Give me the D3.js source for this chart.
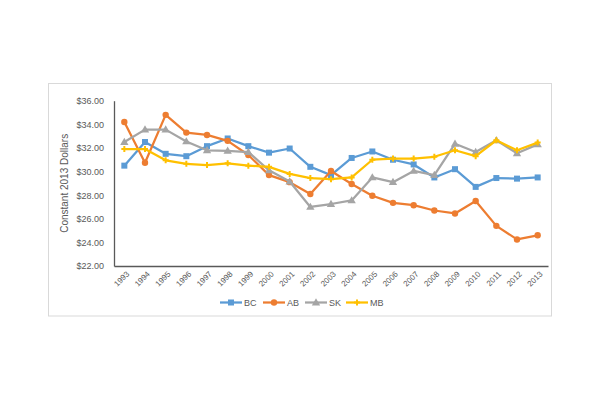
<!DOCTYPE html>
<html><head><meta charset="utf-8">
<script src="https://cdn.jsdelivr.net/npm/d3@7"></script>
<style>body{margin:0;background:#fff}svg{display:block}text{font-family:"Liberation Sans",Arial,sans-serif}</style>
</head><body><svg width="600" height="400"></svg>
<script>
const years = ["1993","1994","1995","1996","1997","1998","1999","2000","2001","2002","2003","2004","2005","2006","2007","2008","2009","2010","2011","2012","2013"];
const BC = [30.5,32.5,31.5,31.3,32.15,32.8,32.15,31.6,31.95,30.4,29.7,31.15,31.7,31.0,30.6,29.5,30.2,28.7,29.45,29.4,29.5];
const AB = [34.2,30.75,34.8,33.3,33.1,32.6,31.4,29.7,29.1,28.1,30.05,28.95,27.95,27.35,27.15,26.7,26.45,27.5,25.4,24.25,24.6];
const SK = [32.5,33.55,33.55,32.55,31.8,31.75,31.65,30.1,29.15,27.0,27.25,27.55,29.5,29.1,30.05,29.7,32.35,31.65,32.65,31.55,32.3];
const MB = [31.9,31.9,30.95,30.65,30.55,30.7,30.5,30.4,29.8,29.45,29.35,29.5,31.0,31.1,31.1,31.25,31.8,31.3,32.65,31.8,32.45];
const yTicks = [22,24,26,28,30,32,34,36];
const seriesNames = ["BC","AB","SK","MB"];
const colors = ["#5B9BD5","#ED7D31","#A5A5A5","#FFC000"];
const series = [BC,AB,SK,MB];

const svg = d3.select("svg");
svg.append("rect").attr("x",48.5).attr("y",83.5).attr("width",503).attr("height",232.5)
  .attr("fill","#fff").attr("stroke","#D9D9D9").attr("stroke-width",1);

const pL=114, pR=548, pT=100.7, pB=266;
const x = d3.scaleBand().domain(years).range([pL,pR]);
const y = d3.scaleLinear().domain([22,36]).range([pB,pT]);

// y axis
const yAxis = svg.append("g").attr("transform",`translate(${pL},0)`)
  .call(d3.axisLeft(y).tickValues(yTicks).tickSize(0).tickPadding(10).tickFormat(d=>"$"+d3.format(".2f")(d)));
yAxis.select(".domain").attr("stroke","#595959").attr("stroke-width",1.3);
yAxis.selectAll("text").attr("fill","#595959").attr("font-size","9px");

// x axis
const xAxis = svg.append("g").attr("transform",`translate(0,${pB})`)
  .call(d3.axisBottom(x).tickSize(0).tickPadding(0));
xAxis.select(".domain").attr("stroke","#595959").attr("stroke-width",1.3);
xAxis.selectAll("text").attr("fill","#595959").attr("font-size","8px")
  .attr("text-anchor","end").attr("dy","0")
  .attr("transform","translate(5.5,8.5) rotate(-45)");

// y title
svg.append("text").attr("transform",`translate(68,${(pT+pB)/2}) rotate(-90)`)
  .attr("text-anchor","middle").attr("font-size","10px").attr("fill","#595959")
  .text("Constant 2013 Dollars");

const plus = "M-3,0L3,0M0,-3L0,3";
function marker(g, i, cx, cy){
  const c = colors[i];
  if(i===0) g.append("rect").attr("x",cx-3).attr("y",cy-3).attr("width",6).attr("height",6).attr("fill",c);
  else if(i===1) g.append("circle").attr("cx",cx).attr("cy",cy).attr("r",3.2).attr("fill",c);
  else if(i===2) g.append("path").attr("d",d3.symbol(d3.symbolTriangle,30)()).attr("transform",`translate(${cx},${cy+0.5})`).attr("fill",c);
  else g.append("path").attr("d",plus).attr("transform",`translate(${cx},${cy})`).attr("stroke",c).attr("stroke-width",2).attr("fill","none");
}

const line = d3.line().x((d,i)=>x(years[i])+x.bandwidth()/2).y(d=>y(d));
series.forEach((s,i)=>{
  const g = svg.append("g");
  g.append("path").datum(s).attr("d",line).attr("fill","none").attr("stroke",colors[i])
    .attr("stroke-width",2.25).attr("stroke-linejoin","round");
  s.forEach((v,j)=>marker(g,i,x(years[j])+x.bandwidth()/2,y(v)));
});

// legend
const legX = [220,263,305,346];
seriesNames.forEach((n,i)=>{
  const g = svg.append("g");
  const ly = 302.5;
  g.append("line").attr("x1",legX[i]).attr("x2",legX[i]+22).attr("y1",ly).attr("y2",ly)
    .attr("stroke",colors[i]).attr("stroke-width",2.25);
  marker(g,i,legX[i]+11,ly);
  g.append("text").attr("x",legX[i]+24).attr("y",ly).attr("dy","0.35em")
    .attr("font-size","9px").attr("fill","#595959").text(n);
});
</script></body></html>
